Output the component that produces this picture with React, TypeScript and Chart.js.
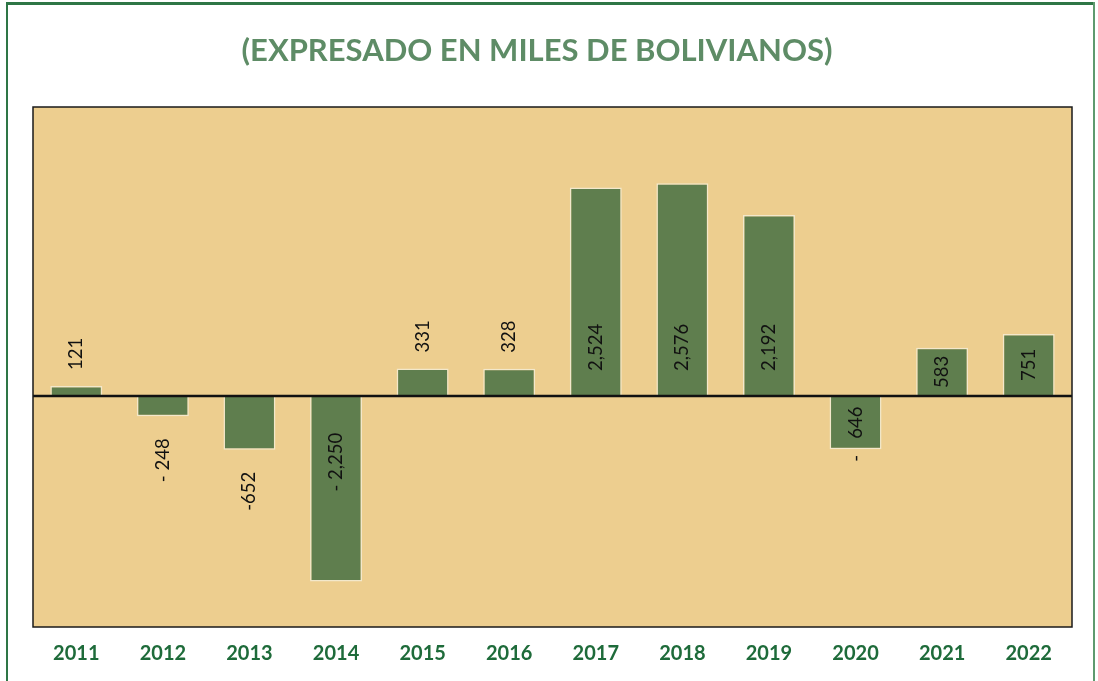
import React, { useEffect, useRef } from "react";
import { Chart, registerables } from "chart.js";

Chart.register(...registerables);

const years = ["2011", "2012", "2013", "2014", "2015", "2016", "2017", "2018", "2019", "2020", "2021", "2022"];
const values = [121, -248, -652, -2250, 331, 328, 2524, 2576, 2192, -646, 583, 751];
const valueLabels = ["121", "- 248", "-652", "- 2,250", "331", "328", "2,524", "2,576", "2,192", "- 646", "583", "751"];
const labelModes = ["outEnd", "outEnd", "outEnd", "inBase", "outEnd", "outEnd", "inBase", "inBase", "inBase", "split", "center", "center"];
const titleText = "(EXPRESADO EN MILES DE BOLIVIANOS)";

const Y_MIN = -2800;
const Y_MAX = 3500;

const framePlugin = {
  id: "framePlugin",
  beforeDraw(chart: any) {
    const { ctx, chartArea } = chart;
    ctx.save();
    ctx.fillStyle = "#ffffff";
    ctx.fillRect(0, 0, chart.width, chart.height);
    // outer green frame
    ctx.fillStyle = "#2E7646";
    ctx.fillRect(6, 2, 1089, 3);
    ctx.fillRect(6, 2, 2, chart.height);
    ctx.fillStyle = "#5E9A6E";
    ctx.fillRect(1093, 2, 2, chart.height);
    // plot background
    ctx.fillStyle = "#EDCE8F";
    ctx.fillRect(chartArea.left, chartArea.top, chartArea.right - chartArea.left, chartArea.bottom - chartArea.top);
    // title
    ctx.fillStyle = "#5E8C66";
    ctx.font = "bold 31px Lato";
    ctx.textAlign = "center";
    ctx.textBaseline = "middle";
    ctx.fillText(titleText, 537, 51);
    ctx.restore();
  },
  afterDatasetsDraw(chart: any) {
    const { ctx, chartArea } = chart;
    const yScale = chart.scales.y;
    const y0 = yScale.getPixelForValue(0);
    ctx.save();
    // zero line
    ctx.strokeStyle = "#111111";
    ctx.lineWidth = 2.5;
    ctx.beginPath();
    ctx.moveTo(chartArea.left, y0);
    ctx.lineTo(chartArea.right, y0);
    ctx.stroke();
    // plot border
    ctx.strokeStyle = "#1a1a1a";
    ctx.lineWidth = 1.5;
    ctx.strokeRect(chartArea.left, chartArea.top, chartArea.right - chartArea.left, chartArea.bottom - chartArea.top);

    // data labels
    const meta = chart.getDatasetMeta(0);
    ctx.fillStyle = "#111111";
    ctx.font = "18.5px Lato";
    ctx.textBaseline = "middle";
    meta.data.forEach((bar: any, i: number) => {
      const v = values[i];
      const x = bar.x;
      const yEnd = bar.y;
      const mode = labelModes[i];
      const text = valueLabels[i];
      const draw = (t: string, ax: number, ay: number, align: string) => {
        ctx.save();
        ctx.translate(ax, ay);
        ctx.rotate(-Math.PI / 2);
        ctx.textAlign = align;
        ctx.fillText(t, 0, 0);
        ctx.restore();
      };
      if (mode === "outEnd") {
        if (v >= 0) draw(text, x, yEnd - 16, "left");
        else draw(text, x, yEnd + 22, "right");
      } else if (mode === "inBase") {
        if (v >= 0) draw(text, x, y0 - 25, "left");
        else draw(text, x, y0 + 37, "right");
      } else if (mode === "center") {
        draw(text, x, (y0 + yEnd) / 2, "center");
      } else if (mode === "split") {
        const parts = text.split(" ");
        draw(parts[1], x, (y0 + yEnd) / 2, "center");
        draw(parts[0], x, yEnd + 9, "center");
      }
    });
    ctx.restore();
  },
};

export default function App() {
  const canvasRef = useRef<HTMLCanvasElement | null>(null);

  useEffect(() => {
    if (!canvasRef.current) return;
    const chart = new Chart(canvasRef.current, {
      type: "bar",
      data: {
        labels: years,
        datasets: [
          {
            data: values,
            backgroundColor: "#5F7E4E",
            borderColor: "#F3E8CB",
            borderWidth: 1.5,
            categoryPercentage: 1,
            barPercentage: 0.6,
          },
        ],
      },
      options: {
        responsive: false,
        animation: false,
        devicePixelRatio: 1,
        layout: { padding: { left: 33, right: 26, top: 107, bottom: 0 } },
        plugins: {
          legend: { display: false },
          title: { display: false },
          tooltip: { enabled: false },
        },
        scales: {
          x: {
            grid: { display: false, drawTicks: false },
            border: { display: false },
            ticks: {
              color: "#1E6B3A",
              font: { family: "Lato", size: 20, weight: "bold" },
              padding: 15,
              maxRotation: 0,
              autoSkip: false,
            },
            afterFit: (scale: any) => {
              scale.height = 54;
            },
          },
          y: {
            display: false,
            min: Y_MIN,
            max: Y_MAX,
          },
        },
      },
      plugins: [framePlugin],
    } as any);
    return () => chart.destroy();
  }, []);

  return (
    <div style={{ position: "absolute", left: 0, top: 0, width: 1098, height: 681, background: "#fff" }}>
      <canvas ref={canvasRef} width={1098} height={681} />
    </div>
  );
}
